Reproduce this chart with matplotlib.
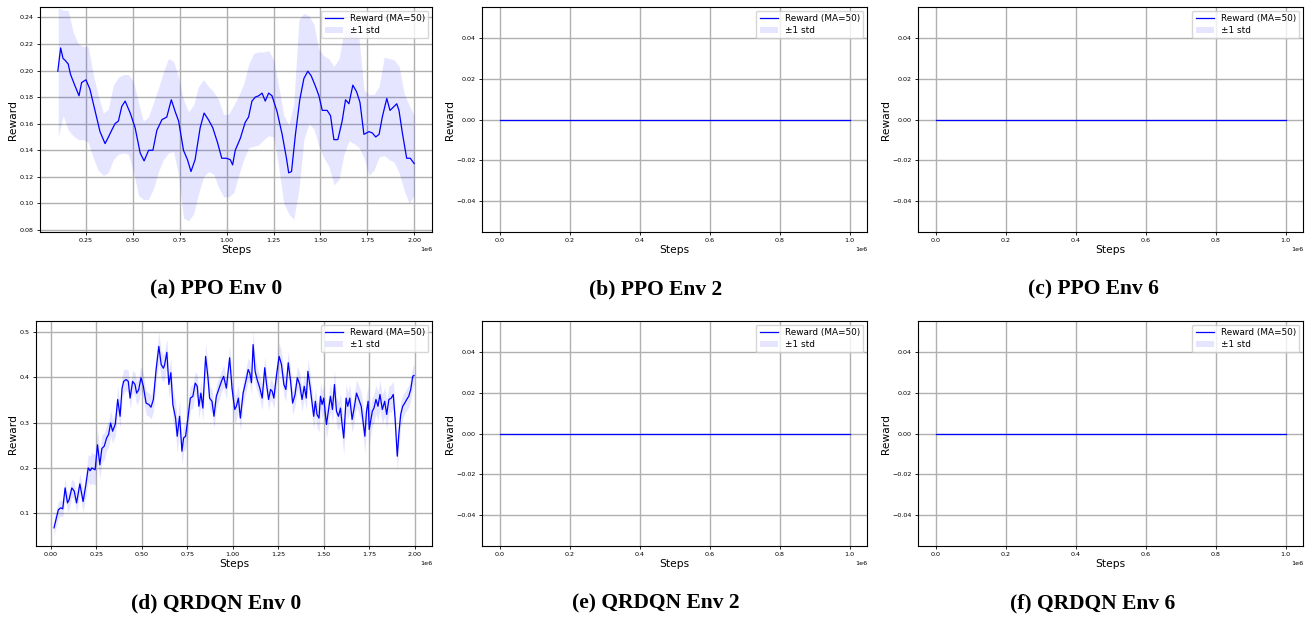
#!/usr/bin/env python

"""
Reward curves (moving average, +/-1 std) for PPO and QRDQN on three envs.
"""

import numpy as np
import matplotlib
matplotlib.use('Agg')
import matplotlib.pyplot as plt


# ---- PPO Env 0: moving average (steps in 1e6)
a_steps = [
	0.100, 0.115, 0.128, 0.137, 0.155, 0.168, 0.190, 0.213, 0.227, 0.250,
	0.271, 0.298, 0.325, 0.352, 0.370, 0.387, 0.405, 0.423, 0.441, 0.459,
	0.486, 0.512, 0.539, 0.560, 0.584, 0.607, 0.628, 0.655, 0.681, 0.705,
	0.726, 0.744, 0.770, 0.791, 0.810, 0.832, 0.859, 0.880, 0.903, 0.926,
	0.951, 0.974, 0.998, 1.019, 1.032, 1.046, 1.073, 1.099, 1.117, 1.135,
	1.153, 1.171, 1.189, 1.206, 1.224, 1.242, 1.269, 1.296, 1.319, 1.331,
	1.346, 1.367, 1.390, 1.412, 1.433, 1.451, 1.474, 1.492, 1.510, 1.536,
	1.554, 1.572, 1.593, 1.616, 1.634, 1.652, 1.673, 1.693, 1.711, 1.732,
	1.759, 1.777, 1.795, 1.813, 1.830, 1.854, 1.871, 1.893, 1.907, 1.919,
	1.937, 1.960, 1.979, 2.000]
a_reward = [
	0.1995, 0.217, 0.209, 0.208, 0.205, 0.197, 0.189, 0.181, 0.191, 0.193,
	0.186, 0.170, 0.154, 0.145, 0.150, 0.155, 0.160, 0.162, 0.173, 0.177,
	0.168, 0.157, 0.138, 0.132, 0.140, 0.140, 0.155, 0.163, 0.165, 0.178,
	0.169, 0.162, 0.140, 0.133, 0.124, 0.133, 0.157, 0.168, 0.163, 0.157,
	0.146, 0.134, 0.134, 0.133, 0.129, 0.140, 0.149, 0.161, 0.165, 0.177,
	0.180, 0.181, 0.183, 0.177, 0.183, 0.181, 0.169, 0.152, 0.134, 0.123,
	0.124, 0.152, 0.178, 0.194, 0.1995, 0.196, 0.188, 0.181, 0.170, 0.170,
	0.166, 0.148, 0.148, 0.162, 0.178, 0.175, 0.189, 0.184, 0.176, 0.152,
	0.154, 0.153, 0.150, 0.152, 0.165, 0.179, 0.170, 0.173, 0.175, 0.170,
	0.153, 0.134, 0.134, 0.130]

# ---- PPO Env 0: std band edges
a_band_steps = [
	0.102, 0.129, 0.156, 0.182, 0.209, 0.236, 0.262, 0.289, 0.316, 0.343,
	0.369, 0.396, 0.423, 0.450, 0.476, 0.503, 0.530, 0.556, 0.583, 0.610,
	0.637, 0.663, 0.690, 0.717, 0.744, 0.770, 0.797, 0.824, 0.850, 0.877,
	0.904, 0.931, 0.957, 0.984, 1.011, 1.038, 1.064, 1.091, 1.118, 1.145,
	1.171, 1.198, 1.225, 1.251, 1.278, 1.305, 1.332, 1.358, 1.385, 1.412,
	1.439, 1.465, 1.492, 1.519, 1.545, 1.572, 1.599, 1.626, 1.652, 1.679,
	1.706, 1.733, 1.759, 1.786, 1.813, 1.840, 1.866, 1.893, 1.920, 1.946,
	1.973, 2.000]
a_band_high = [
	0.247, 0.2455, 0.245, 0.229, 0.220, 0.218, 0.218, 0.197, 0.181, 0.168,
	0.171, 0.189, 0.195, 0.197, 0.197, 0.192, 0.176, 0.162, 0.165, 0.176,
	0.187, 0.199, 0.209, 0.207, 0.195, 0.178, 0.169, 0.174, 0.188, 0.193,
	0.188, 0.184, 0.178, 0.167, 0.167, 0.174, 0.181, 0.190, 0.205, 0.213,
	0.214, 0.214, 0.215, 0.208, 0.188, 0.166, 0.159, 0.175, 0.238, 0.243,
	0.241, 0.235, 0.216, 0.211, 0.209, 0.203, 0.209, 0.229, 0.231, 0.231,
	0.224, 0.185, 0.182, 0.182, 0.188, 0.210, 0.209, 0.208, 0.203, 0.183,
	0.174, 0.166]
a_band_low = [
	0.150, 0.166, 0.155, 0.151, 0.148, 0.148, 0.146, 0.134, 0.125, 0.121,
	0.123, 0.133, 0.137, 0.138, 0.137, 0.124, 0.106, 0.103, 0.103, 0.111,
	0.124, 0.133, 0.138, 0.139, 0.121, 0.089, 0.087, 0.092, 0.107, 0.120,
	0.124, 0.122, 0.112, 0.105, 0.105, 0.108, 0.121, 0.133, 0.142, 0.143,
	0.144, 0.148, 0.151, 0.150, 0.127, 0.100, 0.092, 0.088, 0.110, 0.148,
	0.160, 0.156, 0.143, 0.134, 0.128, 0.114, 0.118, 0.137, 0.147, 0.145,
	0.142, 0.134, 0.121, 0.125, 0.135, 0.136, 0.133, 0.131, 0.123, 0.110,
	0.100, 0.106]

# ---- QRDQN Env 0: moving average and std (steps in 1e6)
d_steps = [
	0.018, 0.031, 0.042, 0.055, 0.066, 0.079, 0.092, 0.101, 0.116, 0.129,
	0.142, 0.160, 0.178, 0.193, 0.206, 0.217, 0.226, 0.244, 0.257, 0.270,
	0.281, 0.294, 0.307, 0.318, 0.329, 0.340, 0.355, 0.368, 0.381, 0.392,
	0.401, 0.414, 0.426, 0.436, 0.450, 0.463, 0.472, 0.483, 0.496, 0.509,
	0.524, 0.539, 0.551, 0.564, 0.579, 0.594, 0.607, 0.619, 0.625, 0.638,
	0.649, 0.660, 0.671, 0.686, 0.695, 0.708, 0.721, 0.730, 0.741, 0.754,
	0.767, 0.781, 0.794, 0.805, 0.814, 0.825, 0.836, 0.851, 0.864, 0.873,
	0.886, 0.897, 0.910, 0.923, 0.938, 0.950, 0.965, 0.983, 0.996, 1.011,
	1.020, 1.031, 1.042, 1.057, 1.072, 1.085, 1.094, 1.103, 1.112, 1.123,
	1.134, 1.149, 1.162, 1.176, 1.186, 1.197, 1.208, 1.217, 1.226, 1.241,
	1.255, 1.268, 1.281, 1.292, 1.305, 1.318, 1.329, 1.342, 1.355, 1.368,
	1.381, 1.393, 1.404, 1.413, 1.426, 1.436, 1.445, 1.454, 1.463, 1.474,
	1.482, 1.491, 1.500, 1.515, 1.528, 1.537, 1.548, 1.559, 1.570, 1.581,
	1.592, 1.601, 1.610, 1.623, 1.632, 1.643, 1.656, 1.669, 1.680, 1.693,
	1.706, 1.715, 1.726, 1.735, 1.744, 1.750, 1.767, 1.776, 1.787, 1.798,
	1.809, 1.822, 1.835, 1.846, 1.858, 1.871, 1.882, 1.892, 1.904, 1.914,
	1.923, 1.934, 1.945, 1.956, 1.967, 1.978, 1.989, 1.996]
d_reward = [
	0.068, 0.090, 0.108, 0.112, 0.110, 0.156, 0.123, 0.130, 0.156, 0.149,
	0.123, 0.165, 0.126, 0.163, 0.200, 0.194, 0.200, 0.196, 0.251, 0.207,
	0.243, 0.248, 0.266, 0.274, 0.299, 0.281, 0.297, 0.351, 0.314, 0.376,
	0.391, 0.395, 0.391, 0.354, 0.391, 0.384, 0.365, 0.372, 0.399, 0.380,
	0.343, 0.340, 0.334, 0.351, 0.417, 0.468, 0.428, 0.420, 0.426, 0.455,
	0.384, 0.410, 0.340, 0.310, 0.270, 0.314, 0.237, 0.266, 0.270, 0.310,
	0.354, 0.358, 0.387, 0.380, 0.336, 0.365, 0.332, 0.446, 0.399, 0.354,
	0.347, 0.314, 0.358, 0.373, 0.391, 0.402, 0.376, 0.443, 0.376, 0.329,
	0.336, 0.354, 0.310, 0.365, 0.391, 0.417, 0.409, 0.388, 0.472, 0.413,
	0.395, 0.376, 0.354, 0.421, 0.384, 0.351, 0.373, 0.369, 0.354, 0.406,
	0.446, 0.428, 0.384, 0.373, 0.432, 0.391, 0.343, 0.361, 0.399, 0.384,
	0.351, 0.380, 0.354, 0.413, 0.376, 0.343, 0.314, 0.347, 0.318, 0.310,
	0.358, 0.340, 0.354, 0.296, 0.332, 0.358, 0.329, 0.384, 0.325, 0.314,
	0.332, 0.296, 0.266, 0.354, 0.336, 0.354, 0.307, 0.336, 0.365, 0.351,
	0.336, 0.307, 0.270, 0.325, 0.347, 0.285, 0.325, 0.332, 0.351, 0.336,
	0.362, 0.329, 0.347, 0.318, 0.351, 0.354, 0.362, 0.310, 0.226, 0.281,
	0.318, 0.336, 0.343, 0.351, 0.358, 0.373, 0.402, 0.404]
d_std = [
	0.018, 0.018, 0.018, 0.018, 0.018, 0.020, 0.020, 0.020, 0.020, 0.020,
	0.022, 0.022, 0.024, 0.026, 0.030, 0.032, 0.034, 0.034, 0.034, 0.032,
	0.030, 0.030, 0.028, 0.028, 0.028, 0.026, 0.026, 0.028, 0.026, 0.026,
	0.026, 0.024, 0.024, 0.024, 0.024, 0.026, 0.026, 0.026, 0.026, 0.026,
	0.026, 0.026, 0.026, 0.028, 0.030, 0.032, 0.030, 0.030, 0.030, 0.030,
	0.030, 0.032, 0.034, 0.036, 0.036, 0.036, 0.030, 0.030, 0.028, 0.028,
	0.026, 0.026, 0.026, 0.026, 0.028, 0.028, 0.028, 0.030, 0.028, 0.026,
	0.026, 0.026, 0.026, 0.026, 0.024, 0.024, 0.024, 0.026, 0.026, 0.030,
	0.030, 0.028, 0.028, 0.026, 0.026, 0.026, 0.026, 0.028, 0.032, 0.030,
	0.026, 0.026, 0.026, 0.026, 0.026, 0.024, 0.024, 0.024, 0.024, 0.026,
	0.030, 0.028, 0.026, 0.026, 0.026, 0.026, 0.026, 0.026, 0.026, 0.026,
	0.026, 0.026, 0.026, 0.028, 0.028, 0.028, 0.030, 0.030, 0.030, 0.030,
	0.030, 0.030, 0.030, 0.032, 0.032, 0.030, 0.030, 0.032, 0.032, 0.032,
	0.032, 0.034, 0.036, 0.032, 0.030, 0.030, 0.030, 0.030, 0.030, 0.030,
	0.032, 0.034, 0.038, 0.036, 0.034, 0.034, 0.032, 0.032, 0.032, 0.032,
	0.032, 0.032, 0.032, 0.032, 0.030, 0.030, 0.030, 0.030, 0.032, 0.030,
	0.028, 0.026, 0.024, 0.024, 0.024, 0.024, 0.024, 0.022]

# ---- envs 2 and 6: reward stays at zero for 1e6 steps
flat_steps = [0.0, 1.0]
flat_reward = [0.0, 0.0]

captions = [
	'(a) PPO Env 0', '(b) PPO Env 2', '(c) PPO Env 6',
	'(d) QRDQN Env 0', '(e) QRDQN Env 2', '(f) QRDQN Env 6']

W, H = 1310, 617


def px_axes(fig, left, top, right, bottom):
	return fig.add_axes([left / W, 1 - bottom / H, (right - left) / W, (bottom - top) / H])


def style_axes(ax, handles):
	ax.grid(True, color='#b0b0b0', linewidth=1.0)
	ax.set_axisbelow(True)
	ax.tick_params(labelsize=4.6, length=2.5, width=0.6, pad=2)
	ax.xaxis.get_offset_text().set_fontsize(4.6)
	ax.set_xlabel('Steps', fontsize=7.7, labelpad=1)
	ax.set_ylabel('Reward', fontsize=7.7, labelpad=1)
	for s in ax.spines.values():
		s.set_linewidth(0.8)
	ax.legend(handles=handles, loc='upper right', fontsize=6.4, borderpad=0.4,
		handlelength=2.0, labelspacing=0.3, borderaxespad=0.4)


def plot_curve(ax, steps, mean, lo_steps, lo, hi):
	band = ax.fill_between(np.array(lo_steps) * 1e6, lo, hi, color='blue',
		alpha=0.1, linewidth=0, label='\u00b11 std')
	line, = ax.plot(np.array(steps) * 1e6, mean, color='blue', linewidth=0.9,
		label='Reward (MA=50)')
	return [line, band]


def main():
	fig = plt.figure(figsize=(W / 100, H / 100), dpi=100)

	lefts = [40, 482, 918]
	rights = [432, 867, 1303]
	row_top = [7, 321]
	cap_x = [216, 656, 1093]
	cap_y = [289, 603]

	axes = []
	for r in range(2):
		for c in range(3):
			left = lefts[c]
			if r == 1 and c == 0:
				left = 36
			ax = px_axes(fig, left, row_top[r], rights[c], row_top[r] + 225)
			axes.append(ax)
			fig.text(cap_x[c] / W, 1 - cap_y[r] / H, captions[r * 3 + c],
				ha='center', va='center', fontsize=15.5, fontweight='bold',
				family=['Liberation Serif', 'DejaVu Serif'])

	handles = {}

	# PPO Env 0
	handles[0] = plot_curve(axes[0], a_steps, a_reward, a_band_steps,
		a_band_low, a_band_high)
	axes[0].set_ylim(0.0785, 0.2478)

	# QRDQN Env 0
	d_mean = np.array(d_reward)
	d_sd = np.array(d_std)
	handles[3] = plot_curve(axes[3], d_steps, d_mean, d_steps,
		d_mean - d_sd, d_mean + d_sd)
	axes[3].set_ylim(0.028, 0.524)
	axes[3].set_yticks([0.1, 0.2, 0.3, 0.4, 0.5])

	# envs 2 and 6
	for i in [1, 2, 4, 5]:
		zeros = np.array(flat_reward)
		handles[i] = plot_curve(axes[i], flat_steps, zeros, flat_steps, zeros, zeros)
		axes[i].set_ylim(-0.055, 0.055)

	for i, ax in enumerate(axes):
		style_axes(ax, handles[i])

	fig.savefig('out.png', dpi=100)


if __name__ == '__main__':
	main()
